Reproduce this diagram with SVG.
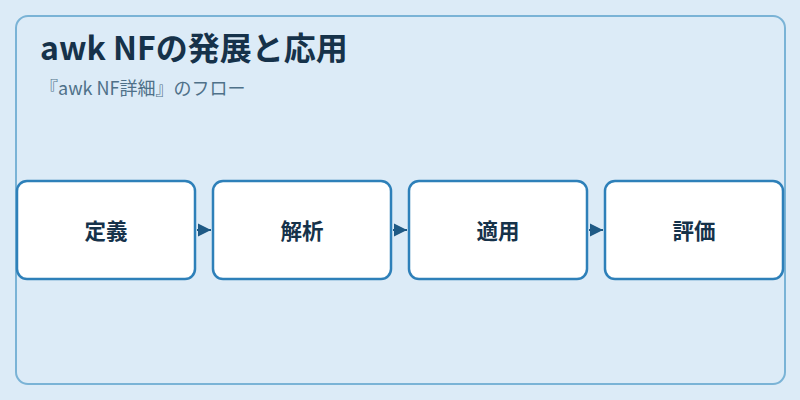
<svg xmlns="http://www.w3.org/2000/svg" width="800" height="400" viewBox="0 0 800 400">
<style>
.node rect{fill:#ffffff;stroke:#2e80b9;stroke-width:2.5}
.node text{font-family:"Noto Sans CJK JP","Liberation Sans",sans-serif;font-size:21.5px;font-weight:bold;fill:#16324a;text-anchor:middle}
.title{font-family:"Noto Sans CJK JP","Liberation Sans",sans-serif;font-size:32px;font-weight:bold;fill:#16324a}
.sub{font-family:"Noto Sans CJK JP","Liberation Sans",sans-serif;font-size:18px;fill:#4f7189}
.conn{stroke:#1f5a85;stroke-width:2;fill:none}
</style>
<defs>
<marker id="arr" viewBox="0 0 10 10" refX="10" refY="5" markerWidth="13" markerHeight="14" markerUnits="userSpaceOnUse" orient="auto">
<path d="M0,0 L10,5 L0,10 Z" fill="#1f5a85"/>
</marker>
</defs>
<rect x="0" y="0" width="800" height="400" fill="#dcebf7"/>
<rect x="16" y="16" width="769" height="368" rx="12" fill="#dcebf7" stroke="#7ab3d6" stroke-width="2"/>
<text class="title" x="40" y="60">awk NFの発展と応用</text>
<text class="sub" x="40" y="95">『awk NF詳細』のフロー</text>
<g id="connectors">
<path class="conn" d="M197,230 L211,230" marker-end="url(#arr)"/>
<path class="conn" d="M393,230 L407,230" marker-end="url(#arr)"/>
<path class="conn" d="M589,230 L603,230" marker-end="url(#arr)"/>
</g>
<g id="n1" class="node"><rect x="17" y="181" width="178" height="98" rx="10"/><text x="106" y="238.5">定義</text></g>
<g id="n2" class="node"><rect x="213" y="181" width="178" height="98" rx="10"/><text x="302" y="238.5">解析</text></g>
<g id="n3" class="node"><rect x="409" y="181" width="178" height="98" rx="10"/><text x="498" y="238.5">適用</text></g>
<g id="n4" class="node"><rect x="605" y="181" width="178" height="98" rx="10"/><text x="694" y="238.5">評価</text></g>
</svg>
